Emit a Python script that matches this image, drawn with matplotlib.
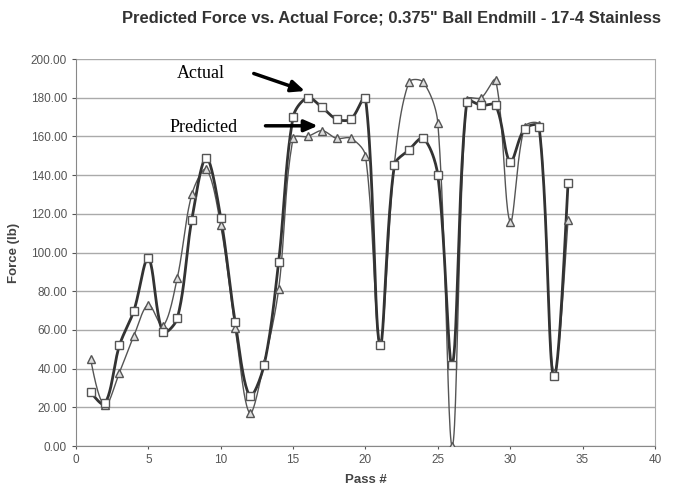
import numpy as np
import matplotlib
matplotlib.use("Agg")
import matplotlib.pyplot as plt
from matplotlib.ticker import FormatStrFormatter, MultipleLocator

passes = list(range(1, 35))
actual = [28, 22, 52, 70, 97, 59, 66, 117, 149, 118, 64, 26, 42, 95, 170, 180, 175, 169, 169, 180,
          52, 145, 153, 159, 140, 42, 178, 176, 176, 147, 164, 165, 36, 136]
predicted = [45, 21, 38, 57, 73, 62, 87, 130, 143, 114, 61, 17, 43, 81, 159, 160, 163, 159, 159, 150,
             53, 146, 188, 188, 167, 0, 179, 180, 189, 116, 165, 166, 38, 117]

title = 'Predicted Force vs. Actual Force; 0.375" Ball Endmill - 17-4 Stainless'

SX, SY = 14.475, 1.935  # approx pixel scale used for segment lengths


def smooth(x, y, n=24):
    x = np.asarray(x, float)
    y = np.asarray(y, float)
    P = np.column_stack([x, y])
    m = len(P)
    S = np.array([SX, SY])

    def d(a, b):
        return np.hypot(*((P[a] - P[b]) * S))

    out_c, in_c = [], []
    for i in range(m):
        if i == 0 or i == m - 1:
            out_c.append(P[i].copy())
            in_c.append(P[i].copy())
            continue
        T = P[i + 1] - P[i - 1]
        din, dout = d(i - 1, i), d(i, i + 1)
        tot = din + dout
        out_c.append(P[i] + T * (dout / tot) / 3)
        in_c.append(P[i] - T * (din / tot) / 3)
    t = np.linspace(0, 1, n)[:, None]
    xs, ys = [], []
    for i in range(m - 1):
        p0, p3 = P[i], P[i + 1]
        c1, c2 = out_c[i], in_c[i + 1]
        if i == 0:
            c1 = p0 + (c2 - p0) / 2
        if i == m - 2:
            c2 = p3 + (c1 - p3) / 2
        b = (1 - t) ** 3 * p0 + 3 * (1 - t) ** 2 * t * c1 + 3 * (1 - t) * t ** 2 * c2 + t ** 3 * p3
        xs.extend(b[:, 0])
        ys.extend(b[:, 1])
    return np.array(xs), np.array(ys)


fig = plt.figure(figsize=(6.85, 4.88), dpi=100)
ax = fig.add_axes([0.111, 0.086, 0.845, 0.793])

ax.set_xlim(0, 40)
ax.set_ylim(0, 200)
ax.yaxis.set_major_locator(MultipleLocator(20))
ax.xaxis.set_major_locator(MultipleLocator(5))
ax.yaxis.set_major_formatter(FormatStrFormatter('%.2f'))
ax.grid(axis='y', color='#aaaaaa', linewidth=1.0)
ax.set_axisbelow(True)

sx, sy = smooth(passes, predicted)
ax.plot(sx, sy, color='#555555', linewidth=1.0, zorder=3)
sx, sy = smooth(passes, actual)
ax.plot(sx, sy, color='#333333', linewidth=2.0, zorder=3)
ax.plot(passes, predicted, linestyle='none', marker='^', markersize=6,
        markerfacecolor='#dddddd', markeredgecolor='#555555', markeredgewidth=1.0, zorder=4)
ax.plot(passes, actual, linestyle='none', marker='s', markersize=6.3,
        markerfacecolor='white', markeredgecolor='#555555', markeredgewidth=1.0, zorder=5)

ax.spines['top'].set_visible(False)
ax.spines['right'].set_color('#aaaaaa')
ax.spines['left'].set_color('#888888')
ax.spines['bottom'].set_color('#888888')
ax.tick_params(axis='both', labelsize=8.5, colors='#555555', length=3)
ax.tick_params(axis='x', length=2)

ax.set_xlabel('Pass #', fontsize=9.5, fontweight='bold', family='Liberation Sans', color='#444444',
              labelpad=6)
ax.set_ylabel('Force (lb)', fontsize=9.5, fontweight='bold', family='Liberation Sans', color='#444444',
              labelpad=8)
for lbl in ax.get_xticklabels() + ax.get_yticklabels():
    lbl.set_family('Liberation Sans')

fig.text(0.571, 0.963, title, ha='center', va='center', fontsize=11.9, fontweight='bold',
         family='Liberation Sans', color='#333333')

ax.text(8.6, 192.5, 'Actual', fontsize=13, family='Liberation Serif', ha='center', va='center')
ax.text(8.8, 164.5, 'Predicted', fontsize=13, family='Liberation Serif', ha='center', va='center')
ax.annotate('', xy=(16.0, 183), xytext=(12.1, 193),
            arrowprops=dict(arrowstyle='-|>,head_length=0.8,head_width=0.35', color='black', lw=2.5))
ax.annotate('', xy=(16.9, 165.5), xytext=(12.9, 165.5),
            arrowprops=dict(arrowstyle='-|>,head_length=0.8,head_width=0.35', color='black', lw=2.5))

fig.savefig('out.png', dpi=100)
